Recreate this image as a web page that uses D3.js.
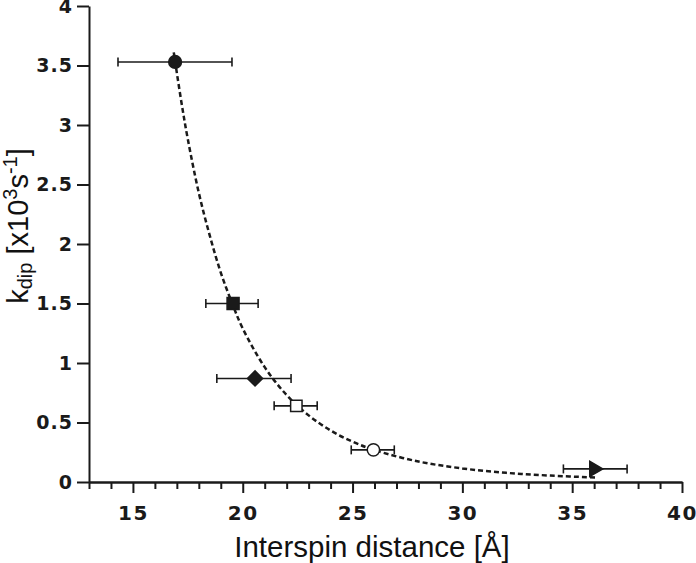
<!DOCTYPE html>
<html>
<head>
<meta charset="utf-8">
<script src="https://cdn.jsdelivr.net/npm/d3@7/dist/d3.min.js"></script>
<style>
  html, body { margin: 0; padding: 0; background: #fff; }
  svg { display: block; }
</style>
</head>
<body>
<div id="chart"></div>
<script>
// measured points: distance [Å], rate, and the horizontal error range
const distances = [16.92, 19.56, 20.56, 22.44, 25.95, 36.0];
const kdip = [3.53, 1.5, 0.87, 0.64, 0.27, 0.11];
const errLow = [14.32, 18.32, 18.82, 21.43, 24.94, 34.6];
const errHigh = [19.51, 20.7, 22.2, 23.39, 26.9, 37.5];
const markers = ['circleFilled', 'squareFilled', 'diamondFilled', 'squareOpen', 'circleOpen', 'triangleRight'];

// dashed fit curve
const fitDist = [16.86, 17.2, 17.5, 18, 18.5, 19, 19.5, 20, 21, 22, 23, 24, 25, 26, 28, 30, 32, 34, 36.15];
const fitK = [3.61, 3.2, 2.88, 2.43, 2.07, 1.76, 1.51, 1.29, 0.965, 0.73, 0.56, 0.433, 0.339, 0.268, 0.172, 0.114, 0.077, 0.054, 0.037];

const xMajorTicks = [15, 20, 25, 30, 35, 40];
const xMinorTicks = d3.range(13, 41, 1).filter(d => d % 5 !== 0);
const yTicks = [0, 0.5, 1, 1.5, 2, 2.5, 3, 3.5, 4];

const width = 696;
const height = 563;
const dim = { left: 89, right: 682, top: 6, bottom: 482 };

const svg = d3.select('#chart').append('svg')
  .attr('width', width)
  .attr('height', height);

const x = d3.scaleLinear().domain([13, 40]).range([dim.left, dim.right]);
const y = d3.scaleLinear().domain([0, 4]).range([dim.bottom, dim.top]);

const ink = '#1a1a1a';
const tickFont = '"DejaVu Sans", sans-serif';
const titleFont = '"Liberation Sans", Arial, sans-serif';

function styleAxis(g) {
  g.select('.domain').attr('stroke', ink).attr('stroke-width', 2);
  g.selectAll('.tick line').attr('stroke', ink).attr('stroke-width', 2);
  g.selectAll('.tick text')
    .attr('fill', ink)
    .style('font-family', tickFont)
    .style('font-size', '19px')
    .style('font-weight', 'bold');
}

// x axis: minor ticks first, then major ticks with labels
svg.append('g')
  .attr('transform', `translate(0, ${dim.bottom})`)
  .call(d3.axisBottom(x).tickValues(xMinorTicks).tickSize(7).tickSizeOuter(0).tickFormat(''))
  .call(styleAxis);

svg.append('g')
  .attr('transform', `translate(0, ${dim.bottom})`)
  .call(d3.axisBottom(x).tickValues(xMajorTicks).tickSize(11).tickSizeOuter(0).tickPadding(13).tickFormat(d => String(d)))
  .call(styleAxis)
  .call(g => g.selectAll('.tick text').style('font-size', '20px').attr('letter-spacing', 1.5));

svg.append('g')
  .attr('transform', `translate(${dim.left}, 0)`)
  .call(d3.axisLeft(y).tickValues(yTicks).tickSize(12).tickSizeOuter(0).tickPadding(4).tickFormat(d => String(d)))
  .call(styleAxis)
  .call(g => g.selectAll('.tick text').attr('letter-spacing', 1));

// fit curve
const line = d3.line()
  .x((d, i) => x(fitDist[i]))
  .y((d, i) => y(fitK[i]))
  .curve(d3.curveCatmullRom);

svg.append('path')
  .attr('d', line(fitDist))
  .attr('fill', 'none')
  .attr('stroke', ink)
  .attr('stroke-width', 2.5)
  .attr('stroke-dasharray', '5,3');

// error bars
const bars = svg.append('g').attr('class', 'errors');
distances.forEach((d, i) => {
  const cy = y(kdip[i]);
  bars.append('line')
    .attr('x1', x(errLow[i])).attr('x2', x(errHigh[i]))
    .attr('y1', cy).attr('y2', cy);
  [errLow[i], errHigh[i]].forEach(v => {
    bars.append('line')
      .attr('x1', x(v)).attr('x2', x(v))
      .attr('y1', cy - 4.5).attr('y2', cy + 4.5);
  });
});
bars.selectAll('line').attr('stroke', ink).attr('stroke-width', 1.6);

// markers
const symbolFor = {
  circleFilled: { type: d3.symbolCircle, size: 128, fill: ink, rotate: 0 },
  squareFilled: { type: d3.symbolSquare, size: 144, fill: ink, rotate: 0 },
  diamondFilled: { type: d3.symbolSquare, size: 115, fill: ink, rotate: 45 },
  squareOpen: { type: d3.symbolSquare, size: 130, fill: '#fff', rotate: 0 },
  circleOpen: { type: d3.symbolCircle, size: 120, fill: '#fff', rotate: 0 },
  triangleRight: { type: d3.symbolTriangle, size: 100, fill: ink, rotate: 90 },
};

svg.append('g').attr('class', 'markers')
  .selectAll('path')
  .data(distances)
  .enter().append('path')
  .attr('transform', (d, i) => `translate(${x(d)}, ${y(kdip[i])}) rotate(${symbolFor[markers[i]].rotate})`)
  .attr('d', (d, i) => d3.symbol().type(symbolFor[markers[i]].type).size(symbolFor[markers[i]].size)())
  .attr('fill', (d, i) => symbolFor[markers[i]].fill)
  .attr('stroke', ink)
  .attr('stroke-width', 1.5);

// axis titles
svg.append('text')
  .attr('x', 372)
  .attr('y', 557)
  .attr('text-anchor', 'middle')
  .attr('fill', '#111')
  .style('font-family', titleFont)
  .style('font-size', '29.5px')
  .text('Interspin distance [Å]');

const yTitle = svg.append('text')
  .attr('transform', 'translate(28, 226) rotate(-90)')
  .attr('text-anchor', 'middle')
  .attr('fill', '#111')
  .style('font-family', titleFont)
  .style('font-size', '29px');
yTitle.append('tspan').text('k');
yTitle.append('tspan').attr('dy', 4).style('font-size', '20px').text('dip');
yTitle.append('tspan').attr('dy', -4).text(' [x10');
yTitle.append('tspan').attr('dy', -11).style('font-size', '20px').text('3');
yTitle.append('tspan').attr('dy', 11).text('s');
yTitle.append('tspan').attr('dy', -11).style('font-size', '20px').text('-1');
yTitle.append('tspan').attr('dy', 11).text(']');
</script>
</body>
</html>
